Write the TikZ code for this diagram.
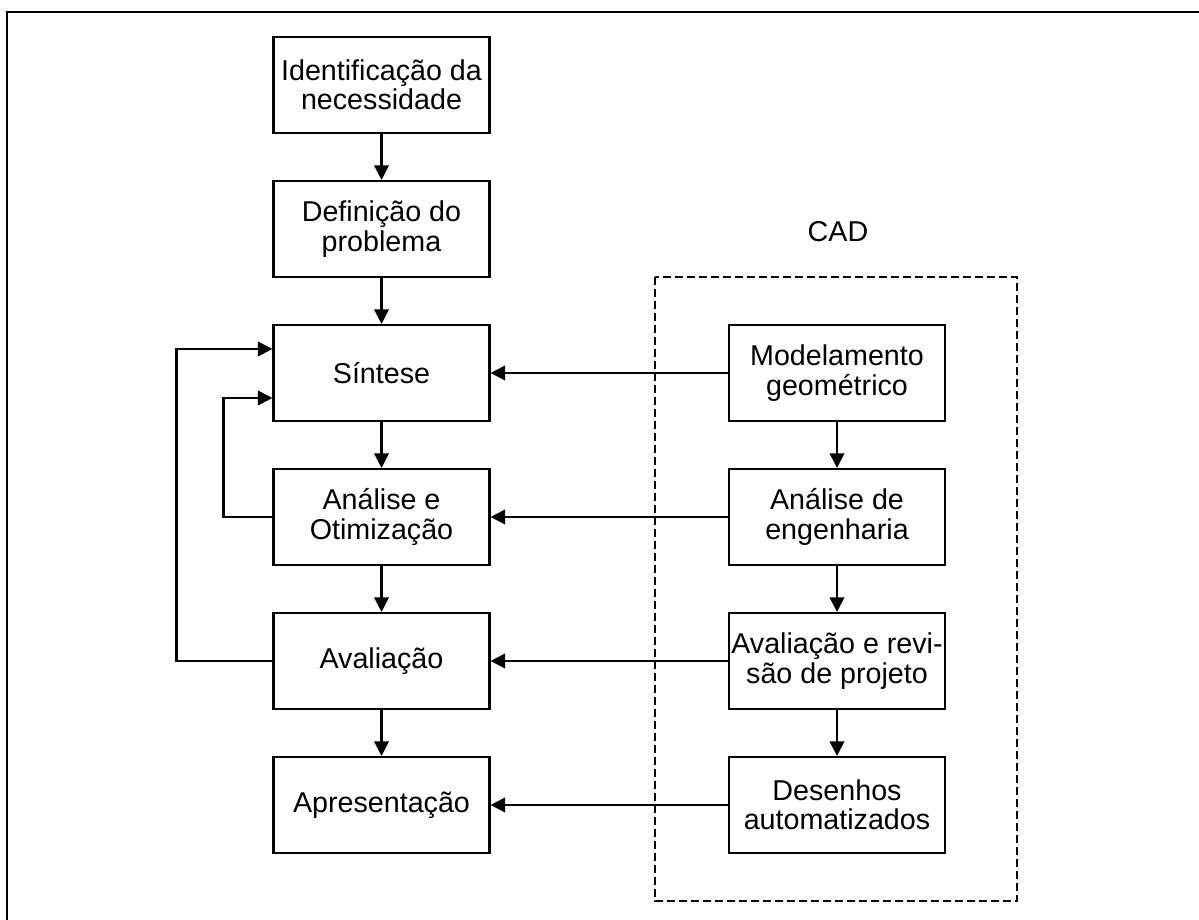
\documentclass[tikz,border=0pt]{standalone}
\usepackage{fontspec}
\setmainfont{Liberation Sans}
\usetikzlibrary{arrows.meta,calc}
\tikzset{
  box/.style={draw, line width=1.6pt, minimum width=162pt, minimum height=72pt, align=center, inner sep=1pt, font=\fontsize{21.5}{22}\selectfont},
  arr/.style={line width=1.6pt, -{Triangle[length=11pt,width=11pt]}},
  plain/.style={line width=1.6pt},
  cadbox/.style={line width=1.6pt, dash pattern=on 6pt off 3pt},
  lbl/.style={font=\fontsize{21.5}{22}\selectfont}
}
\begin{document}
\begin{tikzpicture}[x=0.75pt,y=-0.75pt]
\useasboundingbox (0,0) rectangle (1199,920);
\draw[plain] (1199,12) -- (7,12) -- (7,920);
% left column
\node[box] (idn) at (381.5,85) {Identificação da\\necessidade};
\node[box] (def) at (381.5,229) {Definição do\\problema};
\node[box] (sin) at (381.5,373) {Síntese};
\node[box] (ana) at (381.5,517) {Análise e\\Otimização};
\node[box] (ava) at (381.5,661) {Avaliação};
\node[box] (apr) at (381.5,805) {Apresentação};
% right column
\node[lbl] (cad) at (838,232) {CAD};
\draw[cadbox] (655,277) rectangle (1017,901);
\node[box] (mod) at (837,373) {Modelamento\\geométrico};
\node[box] (eng) at (837,517) {Análise de\\engenharia};
\node[box] (rev) at (837,661) {Avaliação e revi-\\são de projeto};
\node[box] (des) at (837,805) {Desenhos\\automatizados};
% vertical arrows
\draw[arr] (idn) -- (def);
\draw[arr] (def) -- (sin);
\draw[arr] (sin) -- (ana);
\draw[arr] (ana) -- (ava);
\draw[arr] (ava) -- (apr);
\draw[arr] (mod) -- (eng);
\draw[arr] (eng) -- (rev);
\draw[arr] (rev) -- (des);
% horizontal arrows
\draw[arr] (mod) -- (sin);
\draw[arr] (eng) -- (ana);
\draw[arr] (rev) -- (ava);
\draw[arr] (des) -- (apr);
% feedback
\coordinate (sinA) at ($(sin.west)+(0,-24)$);
\coordinate (sinB) at ($(sin.west)+(0,25)$);
\draw[arr] (ava.west) -- ++(-96,0) |- (sinA);
\draw[arr] (ana.west) -- ++(-49,0) |- (sinB);
\end{tikzpicture}
\end{document}
